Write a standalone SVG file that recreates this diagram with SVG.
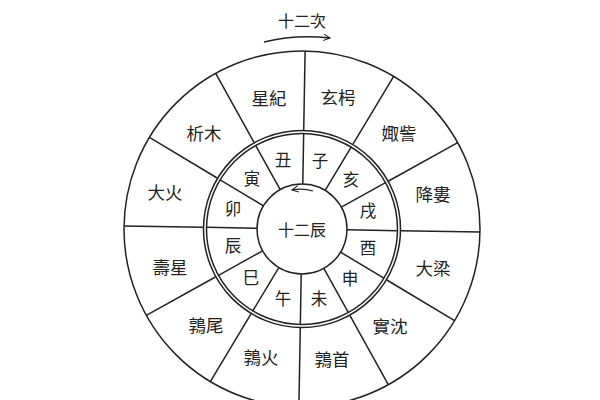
<svg xmlns="http://www.w3.org/2000/svg" width="600" height="400" viewBox="0 0 600 400">
<defs>
<style>
.ln{stroke:#222;stroke-width:1.5;fill:none}
.o{font-family:"Noto Sans CJK TC","Noto Sans CJK SC",sans-serif;font-size:17.5px;fill:#222;text-anchor:middle;dominant-baseline:central}
.i{font-family:"Noto Sans CJK TC","Noto Sans CJK SC",sans-serif;font-size:16.5px;fill:#222;text-anchor:middle;dominant-baseline:central}
.c{font-family:"Noto Sans CJK TC","Noto Sans CJK SC",sans-serif;font-size:16px;fill:#222;text-anchor:middle;dominant-baseline:central}
</style>
<marker id="ah" viewBox="0 0 10 10" refX="9" refY="5" markerWidth="8" markerHeight="8" orient="auto" markerUnits="userSpaceOnUse">
<path d="M1,1 L9,5 L1,9" fill="none" stroke="#222" stroke-width="1.3"/>
</marker>
<g id="spoke">
<line x1="302" y1="184" x2="302" y2="133"/>
<line x1="302" y1="130" x2="302" y2="51"/>
</g>
</defs>
<rect width="600" height="400" fill="#fff"/>
<g id="connectors" class="ln">
<g transform="rotate(1 302 229)">
<use href="#spoke"/>
<use href="#spoke" transform="rotate(30 302 229)"/>
<use href="#spoke" transform="rotate(60 302 229)"/>
<use href="#spoke" transform="rotate(90 302 229)"/>
<use href="#spoke" transform="rotate(120 302 229)"/>
<use href="#spoke" transform="rotate(150 302 229)"/>
<use href="#spoke" transform="rotate(180 302 229)"/>
<use href="#spoke" transform="rotate(210 302 229)"/>
<use href="#spoke" transform="rotate(240 302 229)"/>
<use href="#spoke" transform="rotate(270 302 229)"/>
<use href="#spoke" transform="rotate(300 302 229)"/>
<use href="#spoke" transform="rotate(330 302 229)"/>
</g>
<circle cx="302" cy="229" r="178"/>
<circle cx="302" cy="229" r="98.5"/>
<circle cx="302" cy="229" r="95.5"/>
<circle cx="302" cy="229" r="45"/>
<path d="M264,42 Q296,34 330,38" marker-end="url(#ah)"/>
<path d="M313,191 Q303,188 292,190" marker-end="url(#ah)" stroke-width="1.2"/>
</g>
<g id="title"><text class="c" x="302" y="20">十二次</text></g>
<g id="center"><text class="c" x="302" y="229">十二辰</text></g>
<g id="outer">
<text class="o" x="338" y="96">玄枵</text>
<text class="o" x="399" y="132">娵訾</text>
<text class="o" x="433" y="193">降婁</text>
<text class="o" x="433" y="267">大梁</text>
<text class="o" x="390" y="325">實沈</text>
<text class="o" x="332" y="358">鶉首</text>
<text class="o" x="261" y="356">鶉火</text>
<text class="o" x="206" y="324">鶉尾</text>
<text class="o" x="170" y="266">壽星</text>
<text class="o" x="165" y="191">大火</text>
<text class="o" x="204" y="132">析木</text>
<text class="o" x="269" y="97">星紀</text>
</g>
<g id="inner">
<text class="i" x="320" y="160">子</text>
<text class="i" x="351" y="179">亥</text>
<text class="i" x="368" y="210">戌</text>
<text class="i" x="368" y="247">酉</text>
<text class="i" x="350" y="278">申</text>
<text class="i" x="319" y="298">未</text>
<text class="i" x="283" y="298">午</text>
<text class="i" x="251" y="277">巳</text>
<text class="i" x="233" y="245">辰</text>
<text class="i" x="233" y="208">卯</text>
<text class="i" x="252" y="178">寅</text>
<text class="i" x="283" y="159">丑</text>
</g>
</svg>
